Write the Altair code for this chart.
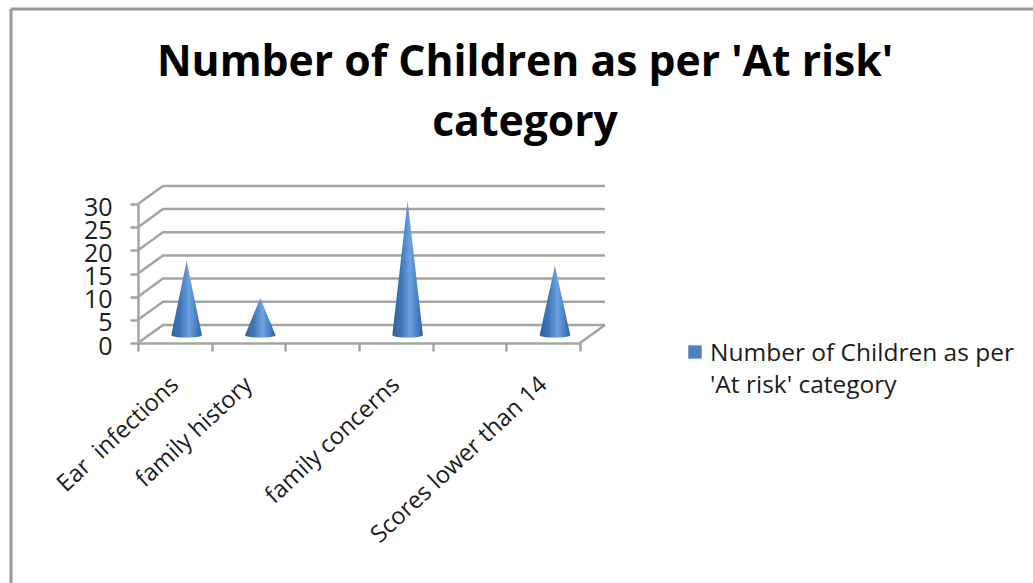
import altair as alt
import pandas as pd

# Chart values
categories = ["Ear\u00a0 infections", "family history", " ", "family concerns", "  ", "Scores lower than 14"]
counts = [16, 8, None, 29, None, 15]
y_ticks = [0, 5, 10, 15, 20, 25, 30]
series_lines = ["Number of Children as per", "'At risk' category"]
title_lines = ["Number of Children as per 'At risk'", "category"]

FONT = "Open Sans"
GREY = "#a4a4a4"
INK = "#1c1c1c"

# Oblique depth of the box, in data units of each axis
DEPTH_X = 0.339
DEPTH_Y = 3.9
# Cone footprint
CONE_HALF = 0.208
CONE_BASE = 1.68
CONE_DROOP = 0.52
STEPS = 12

n = len(categories)

# Floor and back-wall lines: each runs from the front edge back, then across
wall_rows = []
for v in y_ticks:
    wall_rows.append({"line": f"w{v}", "x": 0, "y": v})
    wall_rows.append({"line": f"w{v}", "x": DEPTH_X, "y": v + DEPTH_Y})
    wall_rows.append({"line": f"w{v}", "x": n + DEPTH_X, "y": v + DEPTH_Y})
wall_rows.append({"line": "floor", "x": n, "y": 0})
wall_rows.append({"line": "floor", "x": n + DEPTH_X, "y": DEPTH_Y})
walls = pd.DataFrame(wall_rows)

# Cone silhouettes: straight flanks on top, a shallow elliptical rim below
cone_rows = []
for i, (cat, value) in enumerate(zip(categories, counts)):
    if value is None:
        continue
    centre = i + 0.5 + 0.16
    for s in range(-STEPS, STEPS + 1):
        t = s / STEPS
        cone_rows.append({
            "category": cat,
            "x": centre + t * CONE_HALF,
            "top": CONE_BASE + value * (1 - abs(t)),
            "bottom": CONE_BASE - CONE_DROOP * (1 - t * t) ** 0.5,
        })
cones = pd.DataFrame(cone_rows)

x_scale = alt.Scale(domain=[0, n], nice=False, zero=False)
y_scale = alt.Scale(domain=[0, 30], nice=False)

# Category names sit mid-band, ticks on the band edges
label_expr = "''"
for i, cat in enumerate(categories):
    label_expr = f"datum.value == {i + 0.5} ? '{cat}' : ({label_expr})"

x_axis = alt.Axis(
    values=[k / 2 for k in range(2 * n + 1)],
    labelExpr=label_expr,
    title=None, grid=False, labelAngle=317, labelAlign="right", labelBaseline="middle",
    labelFont=FONT, labelFontSize=23.7, labelColor=INK, labelOverlap=False,
    labelLimit=400, labelPadding=30,
    domainColor=GREY, domainWidth=2.5, tickColor=GREY, tickWidth=2.5, tickSize=8,
    tickOpacity={"condition": {"test": "datum.value % 1 == 0", "value": 1}, "value": 0},
)
y_axis = alt.Axis(
    values=y_ticks, title=None, grid=False, labelFont=FONT, labelFontSize=25,
    labelColor=INK, labelPadding=18, labelOffset=3, labelOverlap=False, domainColor=GREY,
    domainWidth=2.5, tickColor=GREY, tickWidth=2.5, tickSize=8,
)

wall_layer = alt.Chart(walls).mark_line(color=GREY, strokeWidth=2.5).encode(
    x=alt.X("x:Q", scale=x_scale, axis=x_axis),
    y=alt.Y("y:Q", scale=y_scale, axis=y_axis),
    detail="line:N",
)

cone_fill = alt.Gradient(
    gradient="linear", x1=0, x2=1, y1=0, y2=0,
    stops=[
        alt.GradientStop(color="#2f6197", offset=0),
        alt.GradientStop(color="#3f78b8", offset=0.3),
        alt.GradientStop(color="#6ea2e2", offset=0.58),
        alt.GradientStop(color="#4a82c4", offset=0.8),
        alt.GradientStop(color="#2f6197", offset=1),
    ],
)
cone_layer = alt.Chart(cones).mark_area(color=cone_fill, interpolate="linear").encode(
    x=alt.X("x:Q", scale=x_scale, axis=x_axis),
    y=alt.Y("top:Q", scale=y_scale, axis=y_axis),
    y2="bottom:Q",
    detail="category:N",
)

# Outer frame of the chart area
frame_top = alt.Chart().mark_rule(color="#989898", strokeWidth=3).encode(
    x=alt.value(-127), x2=alt.value(895), y=alt.value(-195)
)
frame_left = alt.Chart().mark_rule(color="#989898", strokeWidth=3).encode(
    x=alt.value(-127), y=alt.value(-195), y2=alt.value(379)
)

# Series key to the right of the plot
key_swatch = alt.Chart().mark_square(color="#4f81bd", size=180, opacity=1).encode(
    x=alt.value(557), y=alt.value(148)
)
key_text = alt.Chart().mark_text(
    align="left", baseline="middle", font=FONT, fontSize=24.5, lineHeight=32, color=INK
).encode(
    x=alt.value(572), y=alt.value(150), text=alt.value(series_lines)
)

chart = alt.layer(wall_layer, cone_layer, frame_top, frame_left, key_swatch, key_text).properties(
    width=442,
    height=139,
    padding={"left": 138, "top": 204, "right": 453, "bottom": 240},
    autosize=alt.AutoSizeParams(type="none"),
    background="white",
    title=alt.TitleParams(
        text=title_lines, font=FONT, fontSize=42.7, fontWeight="bold", color="#000000",
        anchor="middle", dx=166, offset=-137, lineHeight=60, frame="group",
    ),
).configure_view(stroke=None).configure_axis(labelOverlap=False)

chart.save("out.html", embed_options={"renderer": "svg", "actions": False})
